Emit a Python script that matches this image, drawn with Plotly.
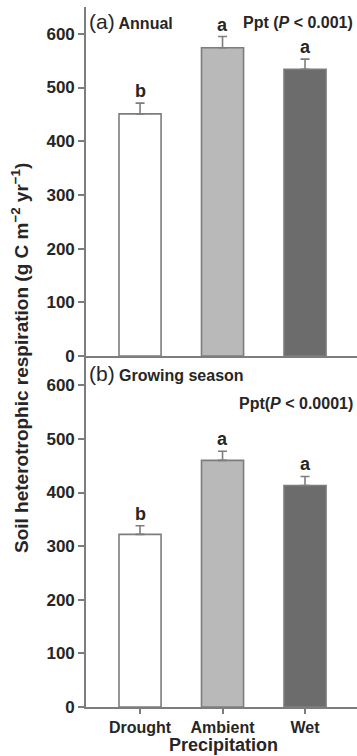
import plotly.graph_objects as go

# Precipitation treatments
categories = ["Drought", "Ambient", "Wet"]

# Annual heterotrophic respiration (g C m-2 yr-1) and standard errors
annual_mean = [451, 574, 534]
annual_se = [20, 21, 19]
annual_letters = ["b", "a", "a"]

# Growing-season heterotrophic respiration and standard errors
growing_mean = [322, 460, 413]
growing_se = [16, 17, 17]
growing_letters = ["b", "a", "a"]

y_ticks = [0, 100, 200, 300, 400, 500, 600]

fills = ["#ffffff", "#b9b9b9", "#6c6c6c"]
edge = "#7d7d7d"
ink = "#262626"
font_family = "Liberation Sans, Arial, sans-serif"

W, H = 357, 756
ML, MR, MT, MB = 86, 0, 7, 49
plot_w = W - ML - MR
plot_h = H - MT - MB


def px_x(px):
    return (px - ML) / plot_w


def px_y(py):
    return (H - MB - py) / plot_h


split = px_y(356)

fig = go.Figure()


def add_panel(means, ses, xa, ya):
    fig.add_trace(go.Bar(
        x=categories, y=means, xaxis=xa, yaxis=ya,
        width=0.51,
        marker=dict(color=fills, line=dict(color=edge, width=1.6)),
        error_y=dict(type="data", symmetric=False, array=ses,
                     arrayminus=[0] * len(ses),
                     color=edge, thickness=1.6, width=4.5),
        showlegend=False, hoverinfo="skip",
    ))


add_panel(annual_mean, annual_se, "x", "y")
add_panel(growing_mean, growing_se, "x2", "y2")

axis_common = dict(showline=True, linecolor=edge, linewidth=1.6,
                   showgrid=False, zeroline=False, mirror=False)
ytick_font = dict(family=font_family, size=17, color=ink, weight="bold")
xtick_font = dict(family=font_family, size=16, color=ink, weight="bold")

fig.update_layout(
    width=W, height=H,
    margin=dict(l=ML, r=MR, t=MT, b=MB),
    paper_bgcolor="white", plot_bgcolor="white",
    font=dict(family=font_family, color=ink),
    bargap=0.49,
    xaxis=dict(domain=[0, 1], anchor="y", range=[-0.655, 2.63],
               showticklabels=False, ticks="", matches="x2", **axis_common),
    yaxis=dict(domain=[split, 1], anchor="x", range=[0, 650],
               tickvals=y_ticks, ticks="outside", ticklen=6, tickwidth=1.6,
               tickcolor=edge, tickfont=ytick_font, **axis_common),
    xaxis2=dict(domain=[0, 1], anchor="y2", range=[-0.655, 2.63],
                ticks="outside", ticklen=5, tickwidth=1.6, tickcolor=edge,
                tickfont=xtick_font, **axis_common),
    yaxis2=dict(domain=[0, split], anchor="x2", range=[0, 654.6],
                tickvals=y_ticks, ticks="outside", ticklen=6, tickwidth=1.6,
                tickcolor=edge, tickfont=ytick_font, **axis_common),
)

letter_font = dict(family=font_family, size=18, color=ink, weight="bold")
for cat, m, s, lab in zip(categories, annual_mean, annual_se, annual_letters):
    fig.add_annotation(x=cat, y=m + s, xref="x", yref="y", text=lab,
                       showarrow=False, yanchor="bottom", yshift=0,
                       font=letter_font)
for cat, m, s, lab in zip(categories, growing_mean, growing_se, growing_letters):
    fig.add_annotation(x=cat, y=m + s, xref="x2", yref="y2", text=lab,
                       showarrow=False, yanchor="bottom", yshift=0,
                       font=letter_font)

label_font = dict(family=font_family, size=16, color=ink, weight="bold")
fig.add_annotation(xref="paper", yref="paper", x=px_x(87), y=px_y(21),
                   xanchor="left", yanchor="middle", showarrow=False,
                   text="<span style='font-size:21px;font-weight:normal'>(a)</span> Annual",
                   font=label_font)
fig.add_annotation(xref="paper", yref="paper", x=px_x(355), y=px_y(22),
                   xanchor="right", yanchor="middle", showarrow=False,
                   text="Ppt (<i>P</i> &lt; 0.001)", font=label_font)
fig.add_annotation(xref="paper", yref="paper", x=px_x(87), y=px_y(373),
                   xanchor="left", yanchor="middle", showarrow=False,
                   text="<span style='font-size:21px;font-weight:normal'>(b)</span> Growing season",
                   font=label_font)
fig.add_annotation(xref="paper", yref="paper", x=px_x(355), y=px_y(403),
                   xanchor="right", yanchor="middle", showarrow=False,
                   text="Ppt(<i>P</i> &lt; 0.0001)", font=label_font)

# Axis titles
fig.add_annotation(xref="paper", yref="paper", x=px_x(223), y=px_y(745),
                   xanchor="center", yanchor="middle", showarrow=False,
                   text="Precipitation",
                   font=dict(family=font_family, size=18, color=ink, weight="bold"))
fig.add_annotation(xref="paper", yref="paper", x=px_x(20), y=px_y(358),
                   xanchor="center", yanchor="middle", showarrow=False,
                   textangle=-90,
                   text="Soil heterotrophic respiration (g C m<sup>\u22122</sup> yr<sup>\u22121</sup>)",
                   font=dict(family=font_family, size=19, color=ink, weight="bold"))

fig.write_html("out.html")
